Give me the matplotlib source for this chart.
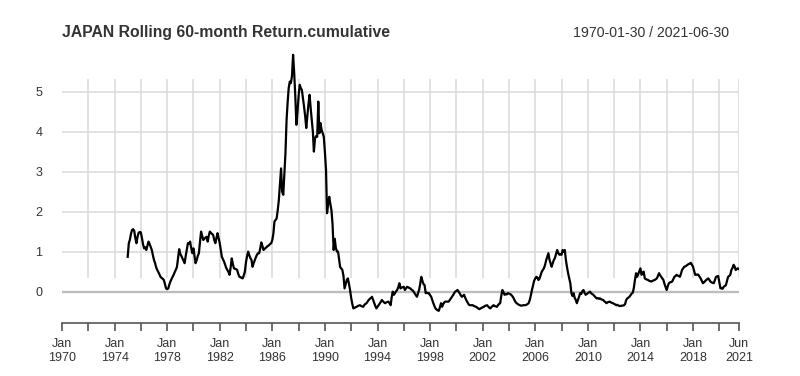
import matplotlib
matplotlib.use("Agg")
import matplotlib.pyplot as plt
import numpy as np
import pandas as pd

plt.rcParams['font.family'] = ['Liberation Sans', 'DejaVu Sans']

# ---- data: JAPAN rolling 60-month cumulative return, month-end values ----
title = "JAPAN Rolling 60-month Return.cumulative"
date_range_text = "1970-01-30 / 2021-06-30"
first_month = "1974-12-31"
last_month = "2021-06-30"

r1970s = [0.88,
          1.22, 1.30, 1.45, 1.55, 1.57, 1.53, 1.35, 1.22, 1.38, 1.48, 1.50, 1.49,
          1.35, 1.20, 1.09, 1.12, 1.05, 1.15, 1.26, 1.20, 1.13, 1.05, 0.92, 0.80,
          0.72, 0.62, 0.55, 0.50, 0.44, 0.38, 0.35, 0.33, 0.30, 0.20, 0.09, 0.07,
          0.09, 0.18, 0.26, 0.32, 0.38, 0.43, 0.50, 0.56, 0.63, 0.85, 1.07, 0.95,
          0.90, 0.84, 0.78, 0.72, 0.90, 1.05, 1.22, 1.20, 1.26, 1.10, 0.97, 1.09]
r1980s = [0.90, 0.72, 0.80, 0.90, 0.97, 1.25, 1.51, 1.40, 1.30, 1.33, 1.36, 1.38,
          1.26, 1.40, 1.51, 1.48, 1.45, 1.43, 1.30, 1.22, 1.35, 1.47, 1.35, 1.22,
          1.05, 0.88, 0.82, 0.76, 0.68, 0.60, 0.55, 0.50, 0.43, 0.62, 0.84, 0.70,
          0.59, 0.58, 0.57, 0.55, 0.45, 0.38, 0.37, 0.35, 0.34, 0.42, 0.51, 0.75,
          0.90, 1.01, 0.92, 0.85, 0.80, 0.63, 0.72, 0.80, 0.87, 0.93, 0.97, 0.97,
          1.10, 1.24, 1.15, 1.05, 1.08, 1.10, 1.13, 1.15, 1.17, 1.20, 1.22, 1.30,
          1.47, 1.76, 1.80, 1.84, 2.05, 2.30, 2.70, 3.09, 2.51, 2.43, 2.95, 3.47,
          4.30, 4.72, 5.10, 5.26, 5.22, 5.40, 5.93, 5.47, 4.90, 4.18, 4.50, 4.90,
          5.18, 5.10, 5.05, 4.85, 4.63, 4.40, 4.10, 4.40, 4.70, 4.93, 4.60, 4.30,
          4.00, 3.51, 3.84, 3.90, 3.88, 4.76, 3.97, 4.22, 4.05, 3.97, 3.88, 3.50]
r1990s = [3.05, 1.97, 2.20, 2.38, 2.20, 2.05, 1.70, 1.05, 1.33, 1.10, 1.01, 1.01,
          0.80, 0.62, 0.59, 0.55, 0.40, 0.09, 0.20, 0.30, 0.34, 0.20, 0.05, -0.15,
          -0.30, -0.41, -0.40, -0.38, -0.37, -0.35, -0.34, -0.33, -0.35, -0.36, -0.37, -0.32,
          -0.30, -0.28, -0.24, -0.20, -0.17, -0.15, -0.12, -0.20, -0.28, -0.35, -0.41, -0.37,
          -0.33, -0.29, -0.25, -0.20, -0.23, -0.26, -0.28, -0.26, -0.25, -0.24, -0.28, -0.33,
          -0.12, 0.01, -0.07, -0.03, 0.02, 0.05, 0.12, 0.22, 0.09, 0.11, 0.12, 0.13,
          0.05, 0.09, 0.13, 0.12, 0.10, 0.09, 0.06, 0.04, 0.01, -0.04, -0.08, -0.12,
          -0.03, 0.05, 0.20, 0.38, 0.28, 0.20, 0.17, -0.03, -0.02, -0.03, -0.03, -0.08,
          -0.12, -0.20, -0.28, -0.35, -0.41, -0.44, -0.46, -0.47, -0.38, -0.28, -0.37, -0.30,
          -0.26, -0.24, -0.24, -0.24, -0.24, -0.20, -0.16, -0.12, -0.08, -0.03, 0.01, 0.03]
r2000s = [0.05, 0.01, -0.03, -0.08, -0.12, -0.10, -0.07, -0.14, -0.20, -0.25, -0.30, -0.33,
          -0.33, -0.33, -0.33, -0.35, -0.36, -0.37, -0.39, -0.41, -0.43, -0.41, -0.40, -0.38,
          -0.37, -0.35, -0.34, -0.33, -0.36, -0.39, -0.41, -0.38, -0.35, -0.33, -0.35, -0.36,
          -0.37, -0.33, -0.30, -0.28, -0.10, 0.05, 0.00, -0.07, -0.05, -0.06, -0.03, -0.04,
          -0.05, -0.07, -0.10, -0.14, -0.20, -0.25, -0.28, -0.30, -0.32, -0.33, -0.34, -0.34,
          -0.33, -0.33, -0.33, -0.32, -0.30, -0.28, -0.20, -0.08, 0.05, 0.17, 0.28, 0.34,
          0.38, 0.36, 0.30, 0.34, 0.43, 0.51, 0.55, 0.60, 0.68, 0.80, 0.88, 0.97,
          0.80, 0.72, 0.63, 0.72, 0.80, 0.85, 0.95, 1.05, 0.98, 0.93, 0.95, 0.93,
          1.05, 1.00, 1.05, 0.80, 0.62, 0.47, 0.35, 0.22, -0.03, -0.10, -0.03, -0.15,
          -0.20, -0.28, -0.20, -0.12, -0.03, -0.05, 0.02, 0.05, -0.02, -0.07, -0.05, -0.03]
r2010s = [-0.01, 0.01, -0.03, -0.05, -0.07, -0.10, -0.13, -0.16, -0.15, -0.17, -0.16, -0.18,
          -0.19, -0.20, -0.23, -0.25, -0.28, -0.26, -0.25, -0.24, -0.26, -0.27, -0.28, -0.30,
          -0.31, -0.33, -0.32, -0.34, -0.35, -0.35, -0.34, -0.34, -0.33, -0.30, -0.20, -0.16,
          -0.14, -0.12, -0.08, -0.04, -0.02, 0.10, 0.30, 0.47, 0.38, 0.45, 0.52, 0.59,
          0.43, 0.48, 0.51, 0.34, 0.32, 0.31, 0.30, 0.28, 0.27, 0.26, 0.28, 0.29,
          0.30, 0.32, 0.34, 0.40, 0.47, 0.42, 0.38, 0.34, 0.30, 0.20, 0.12, 0.05,
          0.15, 0.22, 0.24, 0.25, 0.26, 0.32, 0.38, 0.40, 0.43, 0.41, 0.40, 0.38,
          0.46, 0.55, 0.59, 0.63, 0.64, 0.66, 0.68, 0.70, 0.71, 0.73, 0.68, 0.63,
          0.52, 0.43, 0.43, 0.44, 0.43, 0.38, 0.34, 0.28, 0.22, 0.24, 0.27, 0.30,
          0.32, 0.34, 0.30, 0.26, 0.24, 0.23, 0.22, 0.30, 0.38, 0.39, 0.40, 0.25]
r2020s = [0.09, 0.10, 0.08, 0.13, 0.15, 0.17, 0.28, 0.38, 0.40, 0.43, 0.55, 0.60,
          0.68, 0.64, 0.55, 0.58, 0.59, 0.57]

y_ticks = [0, 1, 2, 3, 4, 5]
label_years = list(range(1970, 2019, 4))
tick_years = list(range(1970, 2021, 2))

values = np.array(r1970s + r1980s + r1990s + r2000s + r2010s + r2020s)
dates = pd.date_range(first_month, last_month, freq="ME")
n = min(len(dates), len(values))
dates = dates[:n]
values = values[:n]

# ---- figure ----
W, H = 800, 376
fig = plt.figure(figsize=(W / 100, H / 100), dpi=100)
ax_left, ax_right = 62, 739
ax_top, ax_bot = 52, 323
ax = fig.add_axes([ax_left / W, 1 - ax_bot / H, (ax_right - ax_left) / W, (ax_bot - ax_top) / H])

x0 = pd.Timestamp("1970-01-01")
x1 = pd.Timestamp(last_month)
ax.set_xlim(x0, x1)
ax.set_ylim(-0.775, 6.0)

grid_c = "#dcdcdc"
for yv in y_ticks:
    if yv == 0:
        ax.axhline(yv, color="#bdbdbd", lw=1.7, zorder=1)
    else:
        ax.axhline(yv, color=grid_c, lw=1.2, zorder=1)
vgrid = [pd.Timestamp(f"{y}-01-01") for y in tick_years[1:]] + [x1]
ax.vlines(vgrid, 0.35, 5.33, color=grid_c, lw=1.2, zorder=1)

ax.plot(dates, values, color="black", lw=1.6, zorder=3, solid_joinstyle="round")

for s in ["left", "right", "top"]:
    ax.spines[s].set_visible(False)
ax.spines["bottom"].set_color("#555555")
ax.spines["bottom"].set_linewidth(1.2)

ax.set_yticks(y_ticks)
ax.set_yticklabels([str(v) for v in y_ticks])
ax.tick_params(axis="y", length=0, pad=14, labelsize=9, labelcolor="#333333")

tick_pos = [pd.Timestamp(f"{y}-01-01") for y in tick_years] + [x1]
tick_lab = []
for y in tick_years:
    tick_lab.append(f"Jan\n{y}" if y in label_years else "")
tick_lab.append(f"Jun\n{x1.year}")
ax.set_xticks(tick_pos)
ax.set_xticklabels(tick_lab)
ax.tick_params(axis="x", length=6, width=1.2, color="#555555", pad=5,
               labelsize=9, labelcolor="#333333", direction="out")
for lbl in ax.get_xticklabels():
    lbl.set_linespacing(1.2)

fig.text(62 / W, 1 - 33 / H, title, fontsize=11.3, fontweight="bold",
         color="#333333", ha="left", va="center")
fig.text(729 / W, 1 - 33 / H, date_range_text, fontsize=10.2,
         color="#333333", ha="right", va="center")

fig.savefig("out.png", dpi=100)
